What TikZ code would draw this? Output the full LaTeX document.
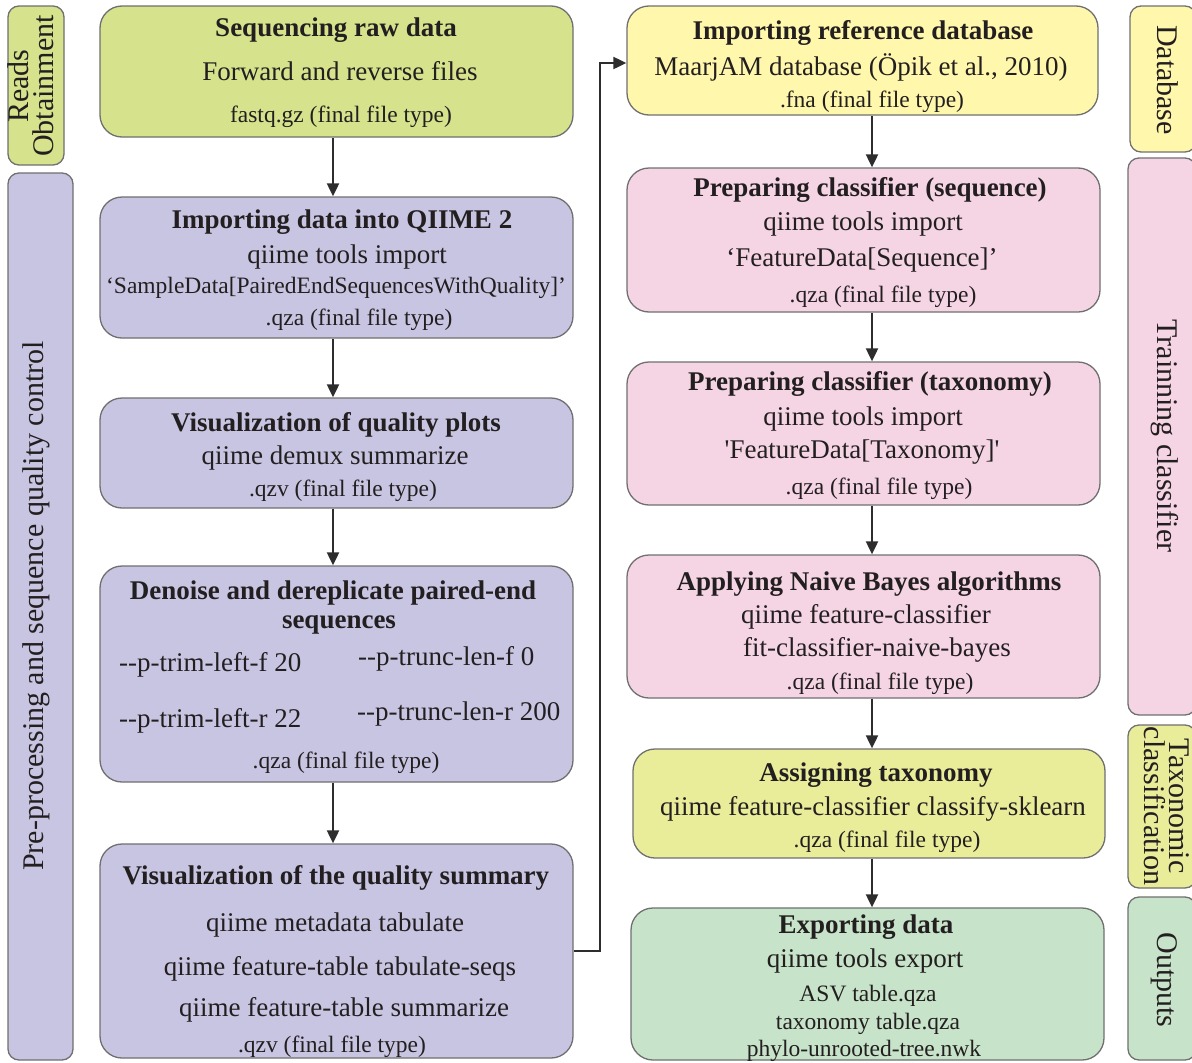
\documentclass[tikz,border=0pt]{standalone}
\usepackage{fontspec}
\setmainfont{Liberation Serif}
\usetikzlibrary{arrows.meta}
\definecolor{cgreen}{RGB}{214,226,140}
\definecolor{cpurple}{RGB}{200,197,226}
\definecolor{cyellow}{RGB}{255,248,172}
\definecolor{cpink}{RGB}{245,213,228}
\definecolor{cassign}{RGB}{233,237,154}
\definecolor{cout}{RGB}{199,227,201}
\definecolor{bordergray}{RGB}{112,112,112}
\definecolor{arrowcol}{RGB}{45,45,45}
\definecolor{textcol}{RGB}{35,31,32}
\newcommand{\hy}{-\kern0pt-}
\begin{document}
\begin{tikzpicture}[x=1pt,y=-1pt,
  box/.style={draw=bordergray, line width=1.3pt, rounded corners=22pt, inner sep=0pt, minimum width=473pt},
  side/.style={draw=bordergray, line width=1.3pt, rounded corners=11pt, inner sep=0pt},
  tl/.style={inner sep=0pt, yshift=-6pt, text=textcol, text height=0.68em, text depth=0.2em, font=\fontsize{27}{30}\selectfont},
  tb/.style={tl, font=\fontsize{27}{30}\selectfont\bfseries},
  ts/.style={tl, yshift=1pt, font=\fontsize{23.5}{26}\selectfont},
  tside/.style={inner sep=0pt, text=textcol, text height=0.68em, text depth=0.2em, font=\fontsize{30}{32}\selectfont},
  arr/.style={draw=arrowcol, line width=2pt, -{Triangle[length=13pt,width=12pt]}}]

\fill[white] (0,0) rectangle (1192,1063);
\useasboundingbox (0,0) rectangle (1192,1063);

% ---------- side labels ----------
\node[side, fill=cgreen, minimum width=56pt, minimum height=159pt] (S1) at (36,85.5) {};
\node[side, fill=cpurple, minimum width=65pt, minimum height=887pt] (S2) at (40.5,616.5) {};
\node[side, fill=cyellow, minimum width=66pt, minimum height=146pt] (S3) at (1163,79) {};
\node[side, fill=cpink, minimum width=68pt, minimum height=557pt] (S4) at (1162,436.5) {};
\node[side, fill=cassign, minimum width=68pt, minimum height=163pt] (S5) at (1162,806.5) {};
\node[side, fill=cout, minimum width=68pt, minimum height=163pt] (S6) at (1162,978.5) {};

\node[tside, rotate=90] (S1a) at (26,86) {Reads};
\node[tside, rotate=90] (S1b) at (51,86) {Obtainment};
\node[tside, rotate=90] (S2a) at (41,606) {Pre-processing and sequence quality control};
\node[tside, rotate=-90] (S3a) at (1160,80) {Database};
\node[tside, rotate=-90] (S4a) at (1160,436) {Trainning classifier};
\node[tside, rotate=-90] (S5a) at (1172,806) {Taxonomic};
\node[tside, rotate=-90] (S5b) at (1147,806) {classification};
\node[tside, rotate=-90] (S6a) at (1160,980) {Outputs};

% ---------- left column boxes ----------
\node[box, fill=cgreen, minimum height=131pt] (L1) at (336.5,71.5) {};
\node[box, fill=cpurple, minimum height=141pt] (L2) at (336.5,267.5) {};
\node[box, fill=cpurple, minimum height=110pt] (L3) at (336.5,453) {};
\node[box, fill=cpurple, minimum height=216pt] (L4) at (336.5,674) {};
\node[box, fill=cpurple, minimum height=214pt] (L5) at (336.5,951) {};

% ---------- right column boxes ----------
\node[box, fill=cyellow, minimum width=471pt, minimum height=109pt] (R1) at (862.5,60.5) {};
\node[box, fill=cpink, minimum height=144pt] (R2) at (863.5,240) {};
\node[box, fill=cpink, minimum height=143pt] (R3) at (863.5,433.5) {};
\node[box, fill=cpink, minimum height=143pt] (R4) at (863.5,626.5) {};
\node[box, fill=cassign, minimum width=472pt, minimum height=109pt] (R5) at (869,803.5) {};
\node[box, fill=cout, minimum height=152pt] (R6) at (867.5,984) {};

% ---------- texts left ----------
\node[tb] (L1a) at (336,28) {Sequencing raw data};
\node[tl] (L1b) at (340,72) {Forward and reverse files};
\node[ts] (L1c) at (341,115) {fastq.gz (final file type)};

\node[tb] (L2a) at (342,220) {Importing data into QIIME 2};
\node[tl] (L2b) at (347,255) {qiime tools import};
\node[ts] (L2c) at (336,286) {‘SampleData[PairedEndSequencesWithQuality]’};
\node[ts] (L2d) at (359,318) {.qza (final file type)};

\node[tb] (L3a) at (336,423) {Visualization of quality plots};
\node[tl] (L3b) at (335,456) {qiime demux summarize};
\node[ts] (L3c) at (343,489) {.qzv (final file type)};

\node[tb] (L4a) at (333,591) {Denoise and dereplicate paired-end};
\node[tb] (L4b) at (339,620) {sequences};
\node[tl, anchor=west] (L4c) at (119,663) {\hy p-trim-left-f 20};
\node[tl, anchor=west] (L4d) at (358,657) {\hy p-trunc-len-f 0};
\node[tl, anchor=west] (L4e) at (119,719) {\hy p-trim-left-r 22};
\node[tl, anchor=west] (L4f) at (357,712) {\hy p-trunc-len-r 200};
\node[ts] (L4g) at (346,761) {.qza (final file type)};

\node[tb] (L5a) at (336,876) {Visualization of the quality summary};
\node[tl] (L5b) at (335,923) {qiime metadata tabulate};
\node[tl] (L5c) at (340,967) {qiime feature-table tabulate-seqs};
\node[tl] (L5d) at (344,1008) {qiime feature-table summarize};
\node[ts] (L5e) at (332,1045) {.qzv (final file type)};

% ---------- texts right ----------
\node[tb] (R1a) at (863,31) {Importing reference database};
\node[tl] (R1b) at (861,67) {MaarjAM database (Öpik et al., 2010)};
\node[ts] (R1c) at (872,100) {.fna (final file type)};

\node[tb] (R2a) at (870,188) {Preparing classifier (sequence)};
\node[tl] (R2b) at (863,222) {qiime tools import};
\node[tl] (R2c) at (862,258) {‘FeatureData[Sequence]’};
\node[ts] (R2d) at (883,295) {.qza (final file type)};

\node[tb] (R3a) at (870,382) {Preparing classifier (taxonomy)};
\node[tl] (R3b) at (863,417) {qiime tools import};
\node[tl] (R3c) at (862,450) {\textquotesingle FeatureData[Taxonomy]\textquotesingle};
\node[ts] (R3d) at (879,487) {.qza (final file type)};

\node[tb] (R4a) at (869,582) {Applying Naive Bayes algorithms};
\node[tl] (R4b) at (866,615) {qiime feature-classifier};
\node[tl] (R4c) at (877,648) {fit-classifier-naive-bayes};
\node[ts] (R4d) at (880,682) {.qza (final file type)};

\node[tb] (R5a) at (876,773) {Assigning taxonomy};
\node[tl] (R5b) at (873,807) {qiime feature-classifier classify-sklearn};
\node[ts] (R5c) at (887,840) {.qza (final file type)};

\node[tb] (R6a) at (866,925) {Exporting data};
\node[tl] (R6b) at (865,959) {qiime tools export};
\node[ts] (R6c) at (868,994) {ASV table.qza};
\node[ts] (R6d) at (868,1022) {taxonomy table.qza};
\node[ts] (R6e) at (864,1049) {phylo-unrooted-tree.nwk};

% ---------- connectors ----------
\coordinate (axl) at (333,0);
\coordinate (axr) at (872,0);
\draw[arr] (L1.south -| axl) -- (L2.north -| axl);
\draw[arr] (L2.south -| axl) -- (L3.north -| axl);
\draw[arr] (L3.south -| axl) -- (L4.north -| axl);
\draw[arr] (L4.south -| axl) -- (L5.north -| axl);

\draw[arr] (R1.south -| axr) -- (R2.north -| axr);
\draw[arr] (R2.south -| axr) -- (R3.north -| axr);
\draw[arr] (R3.south -| axr) -- (R4.north -| axr);
\draw[arr] (R4.south -| axr) -- (R5.north -| axr);
\draw[arr] (R5.south -| axr) -- (R6.north -| axr);

\coordinate (jt) at (600,63);
\draw[arr] (L5.east) -- (L5.east -| jt) -- (jt) -- (R1.west |- jt);
\end{tikzpicture}
\end{document}
